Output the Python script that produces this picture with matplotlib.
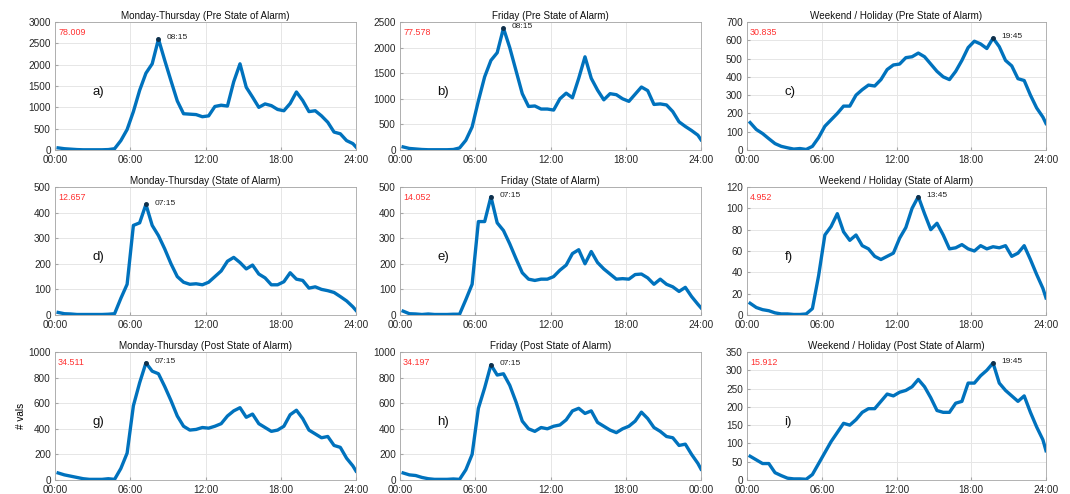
"""Daily profiles by day type, before / during / after the state of alarm."""
import matplotlib
matplotlib.use("Agg")
import matplotlib.pyplot as plt
import numpy as np

# sample times in hours (half-hour steps plus the closing 24:00 point)
hours = list(np.arange(0.25, 24.0, 0.5)) + [24.0]

mon_pre = [50, 30, 20, 10, 5, 5, 5, 5, 10, 30, 220, 480, 900, 1400, 1800, 2020, 2600, 2100,
           1620, 1150, 850, 840, 830, 780, 800, 1020, 1050, 1030, 1600, 2020, 1470, 1240,
           1000, 1080, 1040, 950, 920, 1090, 1360, 1160, 900, 920, 800, 650, 420, 380, 220,
           150, 70]
fri_pre = [60, 30, 20, 10, 5, 5, 5, 5, 10, 40, 190, 450, 960, 1430, 1750, 1900, 2380, 2000,
           1550, 1100, 850, 860, 800, 800, 780, 1000, 1110, 1020, 1400, 1820, 1400, 1170,
           980, 1100, 1080, 1000, 950, 1090, 1230, 1160, 890, 900, 880, 750, 550, 460, 380,
           290, 200]
wkd_pre = [150, 112, 90, 62, 35, 20, 12, 5, 8, 3, 20, 68, 130, 165, 200, 240, 240, 300, 330,
           355, 350, 385, 440, 465, 470, 505, 510, 530, 510, 470, 430, 400, 385, 430, 490,
           560, 595, 580, 555, 612, 565, 490, 460, 390, 380, 300, 230, 180, 145]
mon_soa = [10, 5, 4, 2, 2, 2, 2, 2, 3, 5, 65, 120, 350, 360, 432, 350, 310, 258, 200, 150,
           128, 120, 122, 118, 128, 150, 172, 210, 225, 205, 180, 195, 160, 145, 118, 118, 130,
           165, 140, 135, 105, 110, 100, 95, 88, 72, 55, 32, 18]
fri_soa = [15, 5, 4, 2, 4, 2, 2, 2, 3, 3, 60, 120, 365, 365, 462, 360, 330, 278, 220, 165, 140,
           135, 140, 140, 150, 175, 195, 240, 255, 200, 248, 205, 180, 160, 140, 142, 140, 158,
           160, 145, 120, 140, 120, 110, 92, 108, 72, 42, 28]
wkd_soa = [11, 7, 5, 4, 2, 1, 1, 0.5, 0.5, 1, 6, 37, 75, 83, 95, 78, 70, 75, 65, 62, 55, 52, 55,
           58, 72, 82, 100, 111, 95, 80, 86, 75, 62, 63, 66, 62, 60, 65, 62, 64, 63, 65, 55, 58,
           65, 52, 38, 25, 16]
mon_post = [55, 40, 30, 20, 10, 5, 5, 5, 10, 5, 90, 210, 580, 760, 915, 850, 830, 730, 620,
            500, 420, 390, 395, 410, 405, 420, 440, 500, 540, 565, 490, 515, 440, 410, 380,
            390, 420, 510, 545, 480, 390, 360, 330, 340, 270, 255, 170, 110, 70]
fri_post = [55, 40, 35, 20, 10, 5, 5, 5, 8, 5, 80, 200, 560, 720, 900, 820, 830, 740, 610,
            460, 400, 380, 410, 400, 420, 430, 470, 540, 560, 520, 540, 450, 420, 390, 370,
            400, 420, 460, 530, 480, 410, 380, 340, 330, 270, 280, 200, 130, 85]
wkd_post = [65, 55, 45, 45, 20, 12, 5, 3, 3, 2, 15, 45, 75, 105, 130, 155, 150, 165, 185, 195,
            195, 215, 235, 230, 240, 245, 255, 275, 255, 225, 190, 185, 185, 210, 215, 265,
            265, 285, 300, 320, 265, 245, 230, 215, 230, 185, 145, 110, 80]

titles = ["Monday-Thursday (Pre State of Alarm)", "Friday (Pre State of Alarm)",
          "Weekend / Holiday (Pre State of Alarm)",
          "Monday-Thursday (State of Alarm)", "Friday (State of Alarm)",
          "Weekend / Holiday (State of Alarm)",
          "Monday-Thursday (Post State of Alarm)", "Friday (Post State of Alarm)",
          "Weekend / Holiday (Post State of Alarm)"]
series = [mon_pre, fri_pre, wkd_pre, mon_soa, fri_soa, wkd_soa, mon_post, fri_post, wkd_post]
totals = ["78.009", "77.578", "30.835", "12.657", "14.052", "4.952", "34.511", "34.197", "15.912"]
peak_labels = ["08:15", "08:15", "19:45", "07:15", "07:15", "13:45", "07:15", "07:15", "19:45"]
panel_tags = ["a)", "b)", "c)", "d)", "e)", "f)", "g)", "h)", "i)"]
y_max = [3000, 2500, 700, 500, 500, 120, 1000, 1000, 350]
y_step = [500, 500, 100, 100, 100, 20, 200, 200, 50]
x_labels = ["00:00", "06:00", "12:00", "18:00", "24:00"]
x_labels_h = ["00:00", "06:00", "12:00", "18:00", "00:00"]

plt.rcParams["font.family"] = ["Liberation Sans", "DejaVu Sans"]
BLUE = "#0072BD"
W, H = 1070, 494
lefts = [55, 400, 747]
widths = [301, 301, 299]
tops = [22, 187, 352]
height = 128

fig = plt.figure(figsize=(W / 100, H / 100), dpi=100)
for i, y in enumerate(series):
    r, c = divmod(i, 3)
    ax = fig.add_axes([lefts[c] / W, 1 - (tops[r] + height) / H, widths[c] / W, height / H])
    ax.plot(hours, y, color=BLUE, lw=2.4, solid_joinstyle="round")
    k = int(np.argmax(y))
    ax.plot(hours[k], y[k], "o", color="#10304a", ms=2.5)
    ax.annotate(peak_labels[i], (hours[k], y[k]), xytext=(6, 1), textcoords="offset points",
                fontsize=6, va="center", color="#222222")
    ax.set_xlim(0, 24)
    ax.set_ylim(0, y_max[i])
    ax.set_xticks([0, 6, 12, 18, 24])
    ax.set_xticklabels(x_labels_h if i == 7 else x_labels)
    ax.set_yticks(np.arange(0, y_max[i] + 1, y_step[i]))
    ax.tick_params(direction="in", length=2.5, labelsize=7.2, color="#a6a6a6",
                   labelcolor="#262626")
    ax.tick_params(axis="x", pad=3.5)
    ax.tick_params(axis="y", pad=3)
    ax.grid(True, color="#e6e6e6", lw=0.7)
    for s in ax.spines.values():
        s.set_color("#a6a6a6")
        s.set_linewidth(0.6)
    ax.set_title(titles[i], fontsize=7.1, pad=2.5, color="#111111")
    ax.text(0.01, 0.955, totals[i], transform=ax.transAxes, color="#ff3030",
            fontsize=6.4, va="top", ha="left")
    ax.text(0.125, 0.43, panel_tags[i], transform=ax.transAxes, fontsize=9.5, color="#111111")
    if i == 6:
        ax.set_ylabel("# vals", fontsize=7.2, labelpad=2)

fig.savefig("out.png", dpi=100)
